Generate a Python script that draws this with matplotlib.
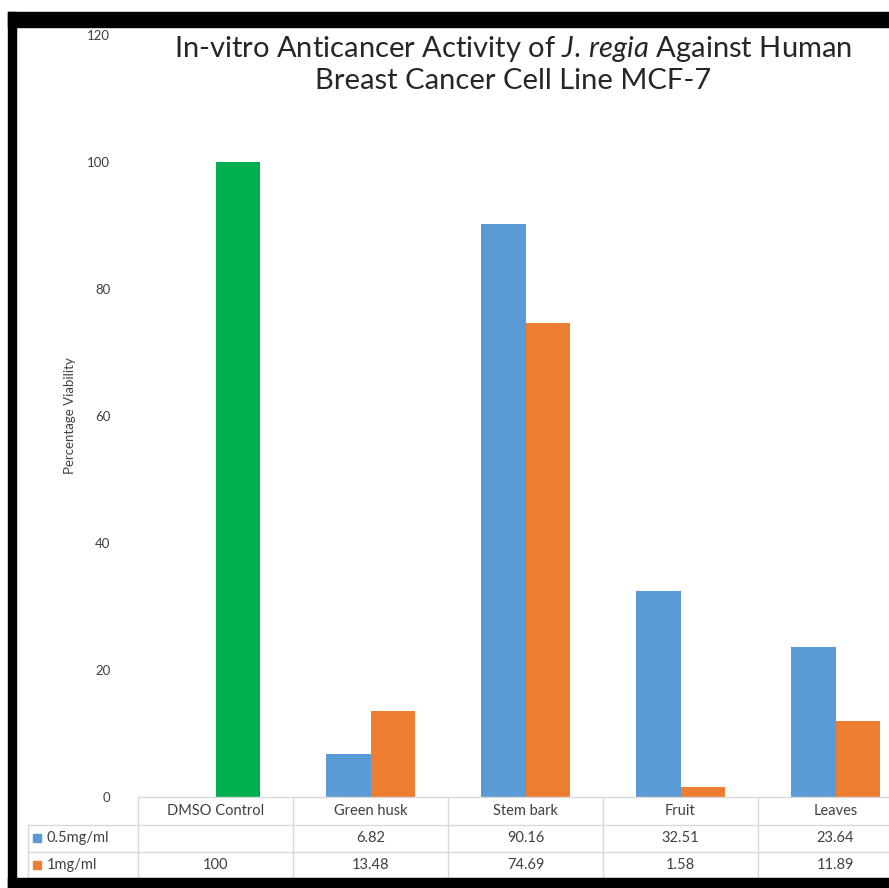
import matplotlib
matplotlib.use("Agg")
import matplotlib.pyplot as plt
from matplotlib.patches import Rectangle
from matplotlib.lines import Line2D
import numpy as np

plt.rcParams['font.family'] = ['Lato', 'DejaVu Sans']
plt.rcParams['mathtext.fontset'] = 'custom'
plt.rcParams['mathtext.it'] = 'Lato:italic'
plt.rcParams['mathtext.rm'] = 'Lato'

# datos
categories = ["DMSO Control", "Green husk", "Stem bark", "Fruit", "Leaves"]
series_names = ["0.5mg/ml", "1mg/ml"]
low_dose = [None, 6.82, 90.16, 32.51, 23.64]
high_dose = [100, 13.48, 74.69, 1.58, 11.89]
yticks = [0, 20, 40, 60, 80, 100, 120]

blue = "#5B9BD5"
orange = "#ED7D31"
green = "#00B050"
grid_gray = "#D9D9D9"
text_col = "#404040"

W, H = 889, 888
fig = plt.figure(figsize=(W / 100, H / 100), dpi=100)

# marco negro
fig.patches.append(Rectangle((8 / W, 0), 8 / W, (H - 12) / H, transform=fig.transFigure,
                             color="black", zorder=0))
fig.patches.append(Rectangle((8 / W, (H - 27) / H), 1 - 8 / W, 15 / H, transform=fig.transFigure,
                             color="black", zorder=0))
fig.patches.append(Rectangle((8 / W, 0), 1 - 8 / W, 10 / H, transform=fig.transFigure,
                             color="black", zorder=0))

ax_l, ax_r, ax_top, ax_bot = 138, 889, 35, 797
ax = fig.add_axes([ax_l / W, (H - ax_bot) / H, (ax_r - ax_l) / W, (ax_bot - ax_top) / H])
ax.patch.set_alpha(0)

x = np.arange(len(categories))
w = 0.287
cat_px = 155.0
xmax = -0.5 + (ax_r - ax_l) / cat_px

lo = np.array([np.nan if v is None else v for v in low_dose], dtype=float)
hi = np.array(high_dose, dtype=float)
hi_colors = [green if low_dose[i] is None else orange for i in range(len(categories))]

ax.bar(x - w / 2, lo, w, color=blue)
ax.bar(x + w / 2, hi, w, color=hi_colors)

ax.set_xlim(-0.5, xmax)
ax.set_ylim(0, 120)
ax.set_yticks(yticks)
ax.set_yticklabels([str(t) for t in yticks], fontsize=9.5, color=text_col)
ax.tick_params(axis='y', length=0, pad=20)
ax.set_xticks([])
for s in ax.spines.values():
    s.set_visible(False)

ax.set_ylabel("Percentage Viability", fontsize=9.5, color=text_col)
ax.yaxis.set_label_coords(-0.082, 0.5)

fig.text(513 / W, (H - 34) / H,
         "In-vitro Anticancer Activity of $J.\\,regia$ Against Human\nBreast Cancer Cell Line MCF-7",
         fontsize=21, color="#262626", linespacing=1.2, ha='center', va='top',
         multialignment='center')

# tabla de datos
ph = ax_bot - ax_top
def ay(py):
    return (ax_bot - py) / ph

trans = ax.get_xaxis_transform()
lab_x = -0.5 - (ax_l - 28) / cat_px
rows_y = [797, 825, 852, 878]
def hline(x0, x1, py):
    ax.add_line(Line2D([x0, x1], [ay(py), ay(py)], transform=trans, color=grid_gray,
                       lw=1, clip_on=False))
def vline(xx, py0, py1):
    ax.add_line(Line2D([xx, xx], [ay(py0), ay(py1)], transform=trans, color=grid_gray,
                       lw=1, clip_on=False))

hline(-0.5, xmax, rows_y[0])
for py in rows_y[1:]:
    hline(lab_x, xmax, py)
vline(lab_x, rows_y[1], rows_y[3])
for i in range(len(categories)):
    vline(i - 0.5, rows_y[0], rows_y[3])

fs = 10.5
for i, c in enumerate(categories):
    ax.text(i, ay(811), c, transform=trans, ha='center', va='center', fontsize=fs,
            color=text_col, clip_on=False)
    if low_dose[i] is not None:
        ax.text(i, ay(838), f"{low_dose[i]:g}", transform=trans, ha='center', va='center',
                fontsize=fs, color=text_col, clip_on=False)
    ax.text(i, ay(865), f"{high_dose[i]:g}", transform=trans, ha='center', va='center',
            fontsize=fs, color=text_col, clip_on=False)

for name, col, py in zip(series_names, [blue, orange], [838, 865]):
    ax.plot([lab_x + 0.06], [ay(py)], marker='s', ms=6, color=col, transform=trans, clip_on=False)
    ax.text(lab_x + 0.12, ay(py), name, transform=trans, ha='left', va='center', fontsize=fs,
            color=text_col, clip_on=False)

fig.savefig("out.png", dpi=100)
